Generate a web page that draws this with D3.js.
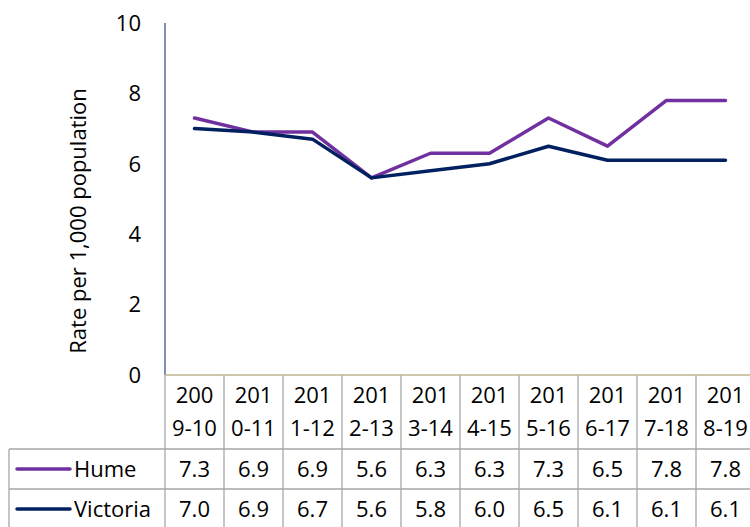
<!DOCTYPE html>
<html>
<head>
<meta charset="utf-8">
<script src="https://cdn.jsdelivr.net/npm/d3@7"></script>
<style>
  body { margin: 0; background: #fff; }
  svg { display: block; font-family: "Open Sans", "Noto Sans", sans-serif; }
</style>
</head>
<body>
<svg id="chart" width="750" height="527"></svg>
<script>
// data
const categories = ["2009-10", "2010-11", "2011-12", "2012-13", "2013-14", "2014-15", "2015-16", "2016-17", "2017-18", "2018-19"];
const hume = [7.3, 6.9, 6.9, 5.6, 6.3, 6.3, 7.3, 6.5, 7.8, 7.8];
const victoria = [7.0, 6.9, 6.7, 5.6, 5.8, 6.0, 6.5, 6.1, 6.1, 6.1];
const yTicks = [0, 2, 4, 6, 8, 10];
const seriesNames = ["Hume", "Victoria"];
const seriesColors = ["#7030a0", "#002060"];

const svg = d3.select("#chart");

//----- layout
const plotLeft = 165, plotTop = 23, plotBottom = 375;
const colW = 59;
const fs = 22;

let x = d3.scaleBand().domain(categories).range([plotLeft, plotLeft + colW * categories.length]);
let y = d3.scaleLinear().domain([0, 10]).range([plotBottom, plotTop]);

// y axis line + labels
svg.append("line")
  .attr("x1", plotLeft).attr("x2", plotLeft)
  .attr("y1", plotTop).attr("y2", plotBottom)
  .style("stroke", "#002060").style("stroke-width", 1);

svg.append("g").selectAll("text")
  .data(yTicks)
  .enter().append("text")
    .attr("x", 141)
    .attr("y", function(d) { return y(d); })
    .attr("dy", "0.35em")
    .attr("text-anchor", "end")
    .style("font-size", fs + "px")
    .text(function(d) { return d; });

svg.append("text")
  .attr("transform", "translate(86,221) rotate(-90)")
  .attr("text-anchor", "middle")
  .style("font-size", "22px")
  .text("Rate per 1,000 population");

//----- table grid
const rowH = 40;
const headBottom = 449;
const gridColor = "#a6a6a6";
let grid = svg.append("g").style("stroke", gridColor).style("stroke-width", 1.3);

// column separators in header and body
categories.forEach(function(c, i) {
  grid.append("line")
    .attr("x1", x(c)).attr("x2", x(c))
    .attr("y1", plotBottom).attr("y2", 527);
});
grid.append("line")
  .attr("x1", x.range()[1]).attr("x2", x.range()[1])
  .attr("y1", plotBottom).attr("y2", 527);
// horizontal
[headBottom, headBottom + rowH].forEach(function(yy) {
  grid.append("line")
    .attr("x1", 9).attr("x2", 750)
    .attr("y1", yy).attr("y2", yy);
});
grid.append("line")
  .attr("x1", 9).attr("x2", 9)
  .attr("y1", headBottom).attr("y2", 527);

// x axis at zero
svg.append("line")
  .attr("x1", plotLeft).attr("x2", 750)
  .attr("y1", plotBottom).attr("y2", plotBottom)
  .style("stroke", "#bfb48f").style("stroke-width", 1.5);

// category labels, wrapped after 3 chars like excel does
let cat = svg.append("g").selectAll("text")
  .data(categories)
  .enter().append("text")
    .attr("text-anchor", "middle")
    .style("font-size", fs + "px");
cat.append("tspan")
  .attr("x", function(d) { return x(d) + x.bandwidth() / 2; })
  .attr("y", 403)
  .text(function(d) { return d.slice(0, 3); });
cat.append("tspan")
  .attr("x", function(d) { return x(d) + x.bandwidth() / 2; })
  .attr("y", 436)
  .text(function(d) { return d.slice(3); });

//----- lines
let line = d3.line()
  .x(function(d, i) { return x(categories[i]) + x.bandwidth() / 2; })
  .y(function(d) { return y(d); });

[hume, victoria].forEach(function(s, k) {
  svg.append("path")
    .datum(s)
    .attr("d", line)
    .style("fill", "none")
    .style("stroke", seriesColors[k])
    .style("stroke-width", 3.5)
    .style("stroke-linejoin", "round")
    .style("stroke-linecap", "round");
});

//----- table rows
[hume, victoria].forEach(function(s, k) {
  let cy = headBottom + rowH * k + rowH / 2;
  svg.append("line")
    .attr("x1", 17).attr("x2", 70)
    .attr("y1", cy).attr("y2", cy)
    .style("stroke", seriesColors[k]).style("stroke-width", 3.5)
    .style("stroke-linecap", "round");
  svg.append("text")
    .attr("x", 74).attr("y", cy).attr("dy", "0.35em")
    .style("font-size", fs + "px")
    .text(seriesNames[k]);
  svg.append("g").selectAll("text")
    .data(s)
    .enter().append("text")
      .attr("x", function(d, i) { return x(categories[i]) + x.bandwidth() / 2; })
      .attr("y", cy).attr("dy", "0.35em")
      .attr("text-anchor", "middle")
      .style("font-size", fs + "px")
      .text(function(d) { return d.toFixed(1); });
});
</script>
</body>
</html>
